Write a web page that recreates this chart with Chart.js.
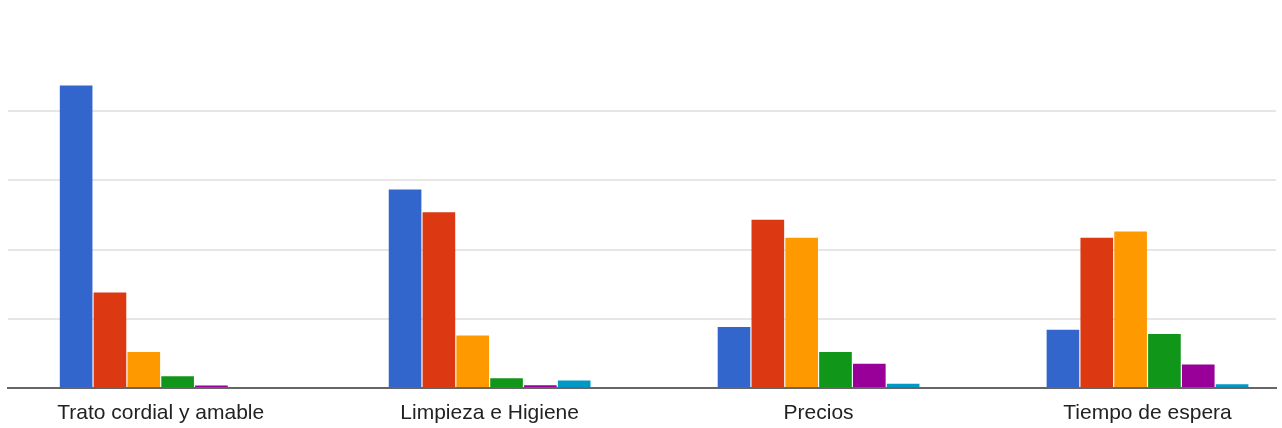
<!DOCTYPE html>
<html>
<head>
<meta charset="utf-8">
<script src="https://cdn.jsdelivr.net/npm/chart.js@4/dist/chart.umd.min.js"></script>
<style>
  html, body { margin: 0; padding: 0; background: #ffffff; overflow: hidden; }
  #wrap { position: relative; width: 1282px; height: 428px; }
</style>
</head>
<body>
<div id="wrap"><canvas id="c" width="1282" height="428"></canvas></div>
<script>
const categories = ["Trato cordial y amable", "Limpieza e Higiene", "Precios", "Tiempo de espera"];
const seriesNames = ["Serie 1", "Serie 2", "Serie 3", "Serie 4", "Serie 5", "Serie 6"];
const seriesColors = ["#3366cc", "#dc3912", "#ff9900", "#109618", "#990099", "#0099c6"];
const serie1 = [43.7, 28.7, 8.8, 8.4];
const serie2 = [13.8, 25.4, 24.3, 21.7];
const serie3 = [5.2, 7.6, 21.7, 22.6];
const serie4 = [1.7, 1.4, 5.2, 7.8];
const serie5 = [0.36, 0.4, 3.5, 3.4];
const serie6 = [0.15, 1.1, 0.6, 0.55];
const yTicks = [0, 10, 20, 30, 40, 50];

const allSeries = [serie1, serie2, serie3, serie4, serie5, serie6];

const datasets = allSeries.map((vals, i) => ({
  label: seriesNames[i],
  data: vals.map((v, j) => ({ x: j, y: v })),
  backgroundColor: seriesColors[i],
  borderWidth: 0,
  categoryPercentage: 0.617,
  barPercentage: 0.965
}));

new Chart(document.getElementById('c'), {
  type: 'bar',
  data: { datasets },
  options: {
    responsive: false,
    animation: false,
    layout: { padding: { left: 8, right: 6, top: 42, bottom: -11.2 } },
    plugins: { legend: { display: false }, tooltip: { enabled: false } },
    scales: {
      x: {
        type: 'linear',
        offset: false,
        min: -0.4642,
        max: 3.3906,
        grid: { display: false, drawTicks: false },
        border: { display: true, color: '#666666', width: 2 },
        afterBuildTicks: (axis) => {
          axis.ticks = categories.map((c, i) => ({ value: i }));
        },
        ticks: {
          includeBounds: false,
          autoSkip: false,
          maxRotation: 0,
          padding: 13,
          color: '#222222',
          font: { family: 'Liberation Sans, Arial, sans-serif', size: 21 },
          callback: (v) => categories[v] ?? ''
        }
      },
      y: {
        min: yTicks[0],
        max: yTicks[yTicks.length - 1],
        afterBuildTicks: (axis) => {
          axis.ticks = yTicks.map(v => ({ value: v }));
        },
        ticks: { display: false },
        border: { display: false },
        grid: {
          drawTicks: false,
          lineWidth: 2,
          color: (ctx) => (ctx.tick && (ctx.tick.value === yTicks[0] || ctx.tick.value === yTicks[yTicks.length - 1])) ? 'rgba(0,0,0,0)' : '#e6e6e6'
        }
      }
    }
  }
});
</script>
</body>
</html>
